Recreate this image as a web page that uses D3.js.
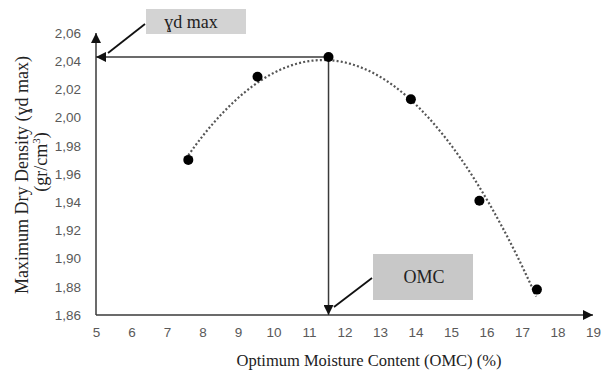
<!DOCTYPE html>
<html>
<head>
<meta charset="utf-8">
<script src="https://cdn.jsdelivr.net/npm/d3@7"></script>
<style>
  body { margin: 0; background: #fff; }
  svg { display: block; }
</style>
</head>
<body>
<svg id="chart" width="608" height="372"></svg>
<script>
// data
var moisture = [7.6, 9.55, 11.55, 13.87, 15.8, 17.42];
var density = [1.970, 2.029, 2.043, 2.013, 1.941, 1.878];
var xTicks = [5, 6, 7, 8, 9, 10, 11, 12, 13, 14, 15, 16, 17, 18, 19];
var yTicks = [1.86, 1.88, 1.90, 1.92, 1.94, 1.96, 1.98, 2.00, 2.02, 2.04, 2.06];
var omc = 11.55;
var maxDensity = 2.043;

var svg = d3.select('#chart');

var x = d3.scaleLinear().domain([5, 19]).range([96, 593]);
var y = d3.scaleLinear().domain([1.86, 2.06]).range([315, 33]);

var defs = svg.append('defs');
function marker(id) {
  defs.append('marker')
    .attr('id', id)
    .attr('viewBox', '0 0 10 10')
    .attr('refX', 10).attr('refY', 5)
    .attr('markerWidth', 10).attr('markerHeight', 10)
    .attr('markerUnits', 'userSpaceOnUse')
    .attr('orient', 'auto')
    .append('path')
    .attr('d', 'M0,0 L10,5 L0,10 Z')
    .attr('fill', '#111');
}
marker('arrow');

var axisColor = '#3a3a3a';

// axes (ticks only, lines drawn as arrows)
var xAxis = svg.append('g')
  .attr('transform', 'translate(0,' + y(1.86) + ')')
  .call(d3.axisBottom(x).tickValues(xTicks).tickSize(0).tickPadding(12).tickFormat(d3.format('d')));
xAxis.select('.domain').remove();
xAxis.selectAll('text')
  .style('font-family', '"Liberation Sans", Arial, sans-serif')
  .style('font-size', '13.5px')
  .attr('fill', '#595959');

var yAxis = svg.append('g')
  .attr('transform', 'translate(' + x(5) + ',0)')
  .call(d3.axisLeft(y).tickValues(yTicks).tickSize(0).tickPadding(15)
    .tickFormat(function (d) { return d.toFixed(2).replace('.', ','); }));
yAxis.select('.domain').remove();
yAxis.selectAll('text')
  .style('font-family', '"Liberation Sans", Arial, sans-serif')
  .style('font-size', '13.5px')
  .attr('fill', '#595959');

// axis lines with arrow heads
svg.append('line')
  .attr('x1', x(5)).attr('y1', y(1.86))
  .attr('x2', x(19)).attr('y2', y(1.86))
  .attr('stroke', axisColor).attr('stroke-width', 1.5)
  .attr('marker-end', 'url(#arrow)');
svg.append('line')
  .attr('x1', x(5)).attr('y1', y(1.86))
  .attr('x2', x(5)).attr('y2', y(2.06))
  .attr('stroke', axisColor).attr('stroke-width', 1.5)
  .attr('marker-end', 'url(#arrow)');

// quadratic trend (least squares from the points)
function quadFit(xs, ys) {
  var n = xs.length, s = [0, 0, 0, 0, 0], t = [0, 0, 0];
  for (var i = 0; i < n; i++) {
    var p = 1;
    for (var k = 0; k < 5; k++) { s[k] += p; if (k < 3) t[k] += p * ys[i]; p *= xs[i]; }
  }
  var m = [[s[0], s[1], s[2], t[0]], [s[1], s[2], s[3], t[1]], [s[2], s[3], s[4], t[2]]];
  for (var c = 0; c < 3; c++) {
    for (var r = c + 1; r < 3; r++) {
      var f = m[r][c] / m[c][c];
      for (var j = c; j < 4; j++) m[r][j] -= f * m[c][j];
    }
  }
  var a = [0, 0, 0];
  for (var r2 = 2; r2 >= 0; r2--) {
    var v = m[r2][3];
    for (var j2 = r2 + 1; j2 < 3; j2++) v -= m[r2][j2] * a[j2];
    a[r2] = v / m[r2][r2];
  }
  return function (xv) { return a[0] + a[1] * xv + a[2] * xv * xv; };
}
var trend = quadFit(moisture, density);
var xs = d3.range(moisture[0], moisture[moisture.length - 1] + 0.001, 0.05);
svg.append('path')
  .datum(xs)
  .attr('fill', 'none')
  .attr('stroke', '#555')
  .attr('stroke-width', 2.2)
  .attr('stroke-dasharray', '2,2.2')
  .attr('d', d3.line().x(function (d) { return x(d); }).y(function (d) { return y(trend(d)); }));

// guide lines to the axes
svg.append('line')
  .attr('x1', x(omc)).attr('y1', y(maxDensity))
  .attr('x2', x(5)).attr('y2', y(maxDensity))
  .attr('stroke', axisColor).attr('stroke-width', 1.5)
  .attr('marker-end', 'url(#arrow)');
svg.append('line')
  .attr('x1', x(omc)).attr('y1', y(maxDensity))
  .attr('x2', x(omc)).attr('y2', y(1.86))
  .attr('stroke', axisColor).attr('stroke-width', 1.5)
  .attr('marker-end', 'url(#arrow)');

// points
svg.append('g').selectAll('circle')
  .data(moisture)
  .enter().append('circle')
  .attr('cx', function (d) { return x(d); })
  .attr('cy', function (d, i) { return y(density[i]); })
  .attr('r', 5)
  .attr('fill', '#000');

// callout boxes
var serif = '"Liberation Serif", "Times New Roman", serif';
svg.append('rect')
  .attr('x', 146).attr('y', 9).attr('width', 100).attr('height', 25)
  .attr('fill', '#d3d3d3');
svg.append('text')
  .attr('x', 191).attr('y', 28)
  .attr('text-anchor', 'middle')
  .style('font-family', serif).style('font-size', '18px')
  .attr('fill', '#222')
  .text('ɣd max');
svg.append('line')
  .attr('x1', 145).attr('y1', 24).attr('x2', 108).attr('y2', 53)
  .attr('stroke', '#111').attr('stroke-width', 1.8);

svg.append('rect')
  .attr('x', 373).attr('y', 254).attr('width', 100).attr('height', 46)
  .attr('fill', '#c8c8c8');
svg.append('text')
  .attr('x', 424).attr('y', 283)
  .attr('text-anchor', 'middle')
  .style('font-family', serif).style('font-size', '18px')
  .attr('fill', '#222')
  .text('OMC');
svg.append('line')
  .attr('x1', 372).attr('y1', 278).attr('x2', 334).attr('y2', 307)
  .attr('stroke', '#111').attr('stroke-width', 1.8);

// axis titles
svg.append('text')
  .attr('x', 369).attr('y', 366)
  .attr('text-anchor', 'middle')
  .style('font-family', serif).style('font-size', '16.5px')
  .attr('fill', '#222')
  .text('Optimum Moisture Content (OMC) (%)');

var yTitle = svg.append('text')
  .attr('transform', 'translate(28,175) rotate(-90)')
  .attr('text-anchor', 'middle')
  .style('font-family', serif).style('font-size', '18px')
  .attr('fill', '#222');
yTitle.append('tspan').attr('x', 0).attr('dy', 0).text('Maximum Dry Density (ɣd max)');
yTitle.append('tspan').attr('x', 13).attr('dy', 19).text('(gr/cm');
yTitle.append('tspan').attr('dy', -7).style('font-size', '11px').text('3');
yTitle.append('tspan').attr('dy', 7).text(')');
</script>
</body>
</html>
